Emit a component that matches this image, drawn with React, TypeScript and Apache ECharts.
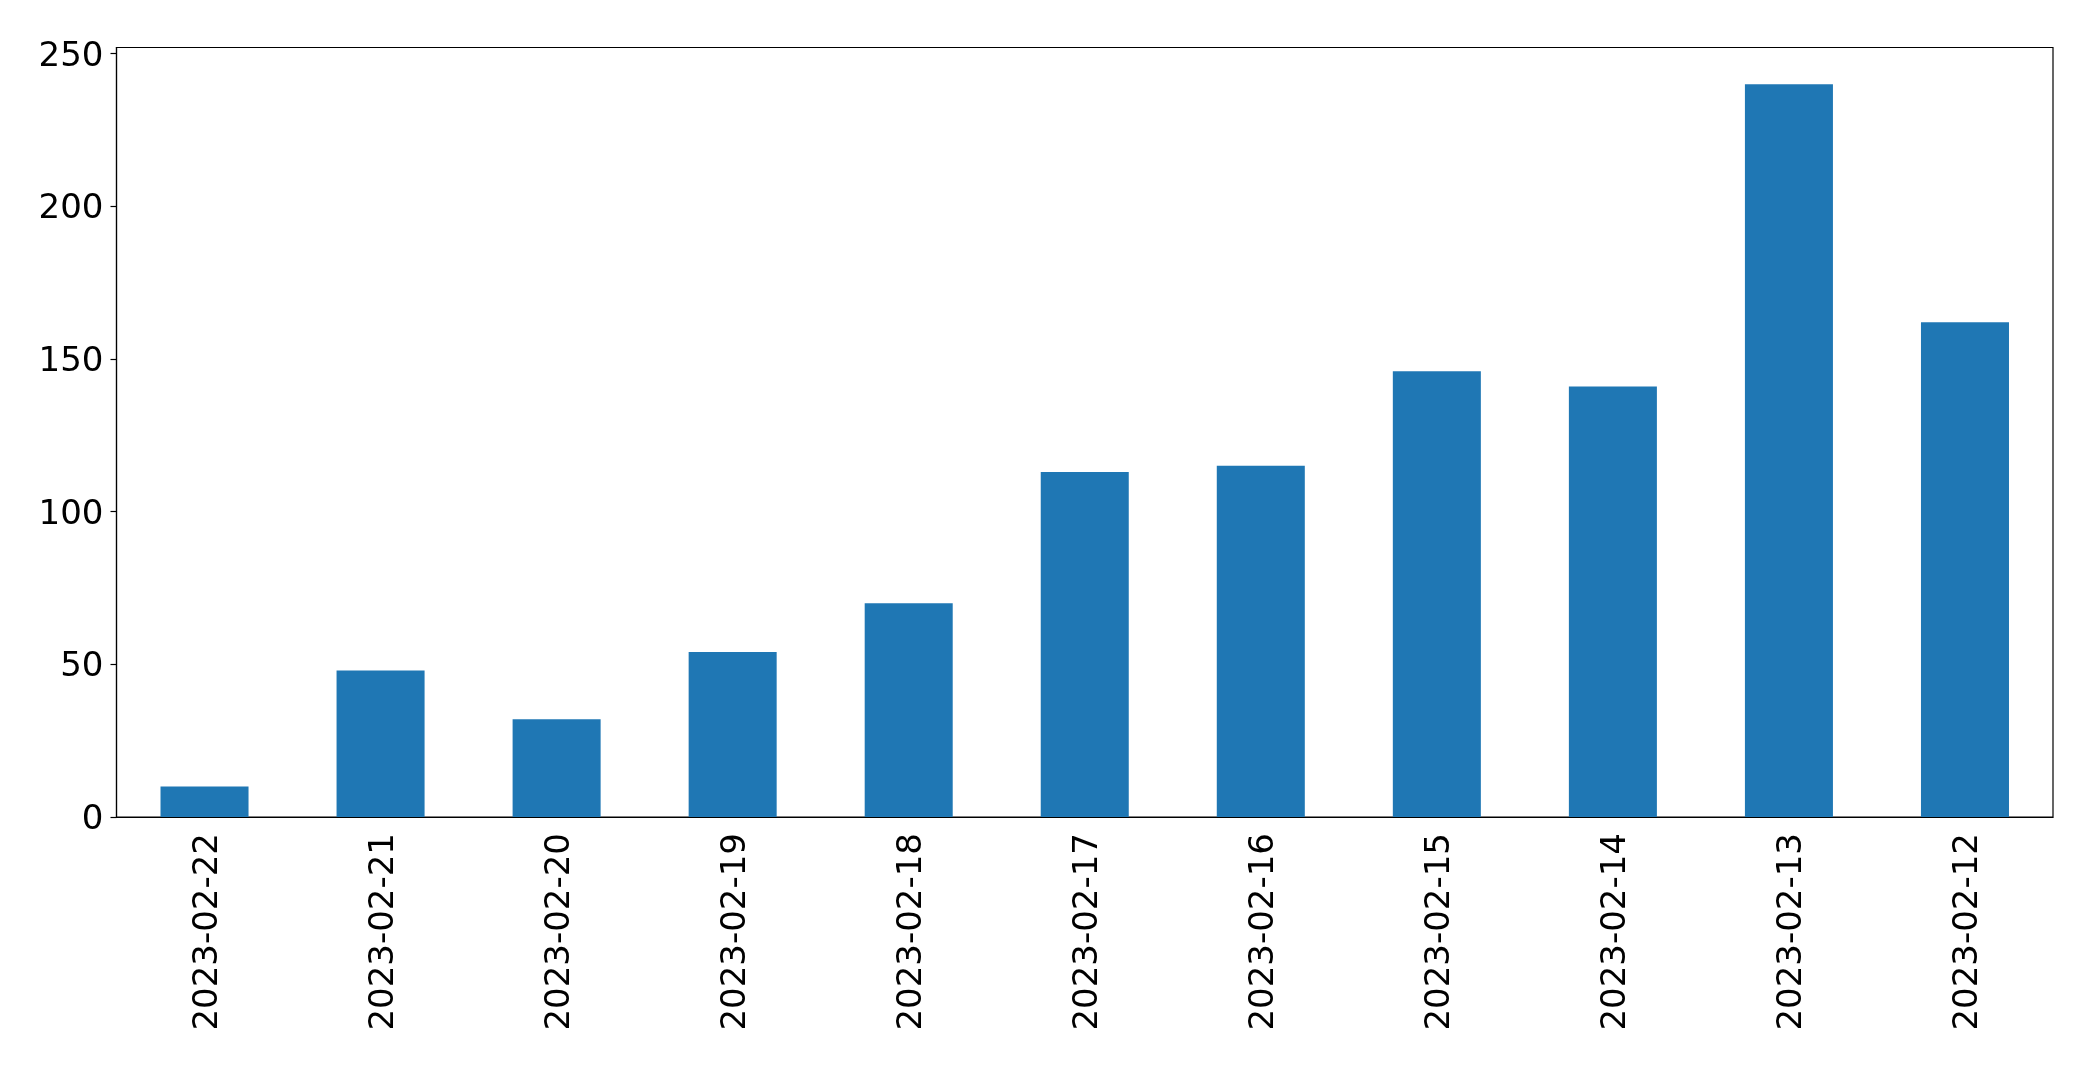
import React, { useEffect, useRef } from 'react'
import * as echarts from 'echarts'

const dates = [
  '2023-02-22', '2023-02-21', '2023-02-20', '2023-02-19', '2023-02-18', '2023-02-17',
  '2023-02-16', '2023-02-15', '2023-02-14', '2023-02-13', '2023-02-12',
]
const counts = [10, 48, 32, 54, 70, 113, 115, 146, 141, 240, 162]
const yTicks = [0, 50, 100, 150, 200, 250]

const font = 'DejaVu Sans'

const App = () => {
  const chartRef = useRef<HTMLDivElement>(null)

  useEffect(() => {
    if (!chartRef.current) return
    document.body.style.margin = '0'

    const chart = echarts.init(chartRef.current, null, { renderer: 'svg' })
    chart.setOption({
      animation: false,
      grid: {
        left: 116.5,
        right: 40,
        top: 47.5,
        bottom: 252,
        show: true,
        borderColor: '#000',
        borderWidth: 1.2,
        containLabel: false,
      },
      xAxis: {
        type: 'category',
        data: dates,
        axisLine: { lineStyle: { color: '#000', width: 1.2 } },
        axisTick: { alignWithLabel: true, length: 6, lineStyle: { color: '#000', width: 1.2 } },
        axisLabel: {
          rotate: 90,
          margin: 16,
          color: '#000',
          fontSize: 34,
          fontFamily: font,
          interval: 0,
        },
        splitLine: { show: false },
      },
      yAxis: {
        type: 'value',
        min: 0,
        max: 252,
        interval: 50,
        axisLine: { show: true, lineStyle: { color: '#000', width: 1.2 } },
        axisTick: { show: true, length: 6, customValues: yTicks, lineStyle: { color: '#000', width: 1.2 } },
        axisLabel: {
          margin: 13,
          color: '#000',
          fontSize: 34,
          fontFamily: font,
          customValues: yTicks,
        },
        splitLine: { show: false },
      },
      series: [
        {
          type: 'bar',
          data: counts,
          barWidth: '50%',
          itemStyle: { color: '#1f77b4' },
        },
      ],
    })

    return () => {
      chart.dispose()
    }
  }, [])

  return <div ref={chartRef} style={{ position: 'fixed', left: 0, top: 0, width: '2093px', height: '1069px' }} />
}

export default App
